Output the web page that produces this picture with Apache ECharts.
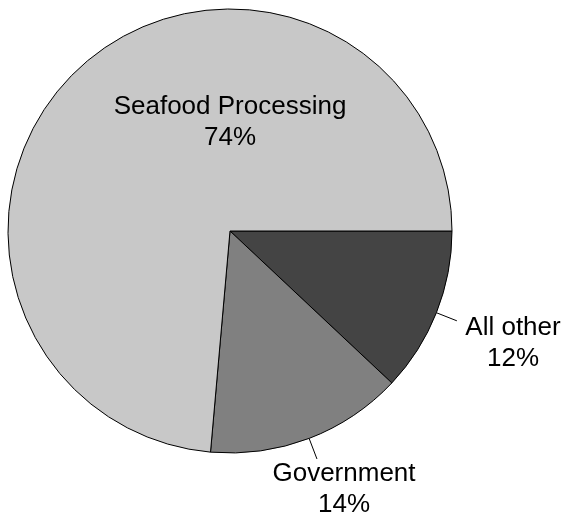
<!DOCTYPE html>
<html>
<head>
<meta charset="utf-8">
<script src="https://cdn.jsdelivr.net/npm/echarts@6/dist/echarts.min.js"></script>
<style>html,body{margin:0;padding:0;background:#fff}#c{width:563px;height:521px}</style>
</head>
<body>
<div id="c"></div>
<script>
const categories = ['All other', 'Government', 'Seafood Processing'];
const values = [12.0, 14.4, 73.6];
const colors = ['#444444', '#808080', '#c8c8c8'];

// label anchor positions (center of text block), in pixels
const labelPos = {
  'All other': [513, 343],
  'Government': [344, 489],
  'Seafood Processing': [230, 122]
};

const chart = echarts.init(document.getElementById('c'), null, {renderer: 'canvas'});
chart.setOption({
  animation: false,
  series: [{
    type: 'pie',
    center: [230, 231],
    radius: 222,
    startAngle: 0,
    clockwise: true,
    avoidLabelOverlap: false,
    itemStyle: {borderColor: '#000', borderWidth: 1},
    label: {
      show: true,
      position: 'outside',
      color: '#000',
      fontFamily: 'Liberation Sans, Arial, sans-serif',
      fontSize: 26,
      lineHeight: 31,
      align: 'center',
      formatter: p => p.name + '\n' + Math.round(p.value) + '%'
    },
    labelLine: {show: true, length: 22, length2: 0, lineStyle: {color: '#000', width: 1}},
    emphasis: {disabled: true},
    labelLayout: function (params) {
      const name = categories[params.dataIndex];
      const pos = labelPos[name];
      return {
        x: pos[0],
        y: pos[1],
        align: 'center',
        verticalAlign: 'middle',
        labelLinePoints: params.labelLinePoints
      };
    },
    data: categories.map((c, i) => ({
      name: c,
      value: values[i],
      itemStyle: {color: colors[i]},
      labelLine: {show: c !== 'Seafood Processing'}
    }))
  }]
});
</script>
</body>
</html>
